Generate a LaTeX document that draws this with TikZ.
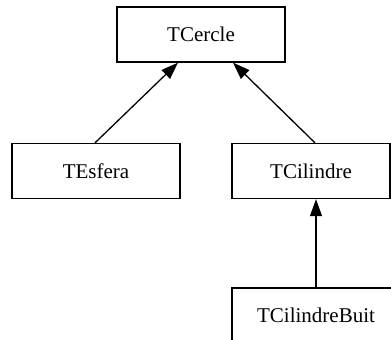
\documentclass[tikz,border=0pt]{standalone}
\usepackage{fontspec}
\setmainfont{Liberation Serif}
\usetikzlibrary{positioning}
\usetikzlibrary{arrows.meta}

\tikzset{
  classbox/.style={draw, line width=1.3pt, rectangle, minimum width=168pt, minimum height=55pt,
    inner sep=0pt, font=\fontsize{21}{25}\selectfont},
  inherit/.style={line width=1.3pt, -{Triangle[length=17pt, width=12pt]}}
}

\begin{document}
\begin{tikzpicture}[x=1pt, y=-1pt]
  \useasboundingbox (0, 0) rectangle (391, 340);
  \clip (0, 0) rectangle (391, 340);
  % classes
  \node [classbox] (cercle) at (201, 34.5) {TCercle};
  \node [classbox] (esfera) at (96, 171) {TEsfera};
  \node [classbox, minimum width=158pt] (cilindre) at (311, 171) {TCilindre};
  \node [classbox] (buit) at (316, 315.5) {TCilindreBuit};
  % herencia
  \draw [inherit] ([xshift=-1pt]esfera.north) to ([xshift=-23pt]cercle.south);
  \draw [inherit] ([xshift=4pt]cilindre.north) to ([xshift=32pt]cercle.south);
  \draw [inherit] (buit.north) to (buit.north |- cilindre.south);
\end{tikzpicture}
\end{document}
